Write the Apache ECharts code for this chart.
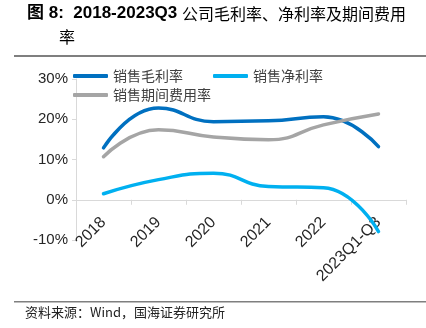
<!DOCTYPE html>
<html>
<head>
<meta charset="utf-8">
<script src="https://cdn.jsdelivr.net/npm/echarts@6/dist/echarts.min.js"></script>
<style>
  html, body { margin: 0; padding: 0; background: #fff; }
  #chart { width: 426px; height: 328px; }
</style>
</head>
<body>
<div id="chart"></div>
<script>
// Periods on the x axis
const categories = ['2018', '2019', '2020', '2021', '2022', '2023Q1-Q3'];
// Ratios in percent
const grossMargin = [12.9, 22.8, 19.4, 19.6, 20.6, 13.2];
const netMargin = [1.5, 5.0, 6.6, 3.3, 3.0, -7.9];
const expenseRate = [10.7, 17.4, 15.6, 14.9, 18.6, 21.3];
// Y axis ticks
const yTicks = { min: -10, max: 30, step: 10 };

const seriesNames = ['销售毛利率', '销售净利率', '销售期间费用率'];
const colors = ['#0070C0', '#00B0F0', '#A5A5A5'];

const gridTop = 79, gridBottom = 88, chartHeight = 328;
const plotHeight = chartHeight - gridTop - gridBottom;
// Lift the category axis from the grid bottom up to the zero line
const zeroLift = plotHeight * (0 - yTicks.min) / (yTicks.max - yTicks.min);

const chart = echarts.init(document.getElementById('chart'), null, { renderer: 'canvas' });

const legendText = { fontFamily: 'Noto Sans CJK SC', fontSize: 14, color: '#404040' };

chart.setOption({
  animation: false,
  color: colors,
  graphic: [
    {
      type: 'text', left: 27, top: 5,
      style: {
        text: '{b|图 8:  2018-2023Q3 }{n|公司毛利率、净利率及期间费用}',
        rich: {
          b: { fontFamily: 'Liberation Sans, Noto Sans CJK SC', fontWeight: 'bold', fontSize: 17, fill: '#000' },
          n: { fontFamily: 'Noto Sans CJK SC', fontSize: 16, fill: '#000' }
        }
      }
    },
    {
      type: 'text', left: 59, top: 29,
      style: { text: '率', fontFamily: 'Noto Sans CJK SC', fontSize: 16, fill: '#000' }
    },
    {
      type: 'rect', shape: { x: 14, y: 55, width: 412, height: 2 },
      style: { fill: '#7f7f7f' }
    },
    {
      type: 'rect', shape: { x: 14, y: 301, width: 412, height: 1.5 },
      style: { fill: '#7f7f7f' }
    },
    {
      type: 'text', left: 25, top: 306,
      style: { text: '资料来源：Wind，国海证券研究所', fontFamily: 'Noto Sans CJK SC', fontSize: 13, fill: '#222' }
    }
  ],
  legend: [
    {
      data: [seriesNames[0], seriesNames[1]],
      left: 68, top: 64, orient: 'horizontal',
      icon: 'roundRect', itemWidth: 35, itemHeight: 4, itemGap: 30,
      textStyle: legendText
    },
    {
      data: [seriesNames[2]],
      left: 68, top: 83,
      icon: 'roundRect', itemWidth: 35, itemHeight: 4,
      textStyle: legendText
    }
  ],
  grid: { left: 76, right: 20, top: gridTop, bottom: gridBottom, containLabel: false },
  xAxis: {
    type: 'category',
    data: categories,
    boundaryGap: true,
    offset: -zeroLift,
    axisLine: { onZero: false, lineStyle: { color: '#d9d9d9', width: 1 } },
    axisTick: { show: true, length: 5, lineStyle: { color: '#d9d9d9' } },
    axisLabel: {
      rotate: 45, fontSize: 16, color: '#262626', margin: 20,
      fontFamily: 'Liberation Sans, Arial'
    },
    splitLine: { show: false }
  },
  yAxis: {
    type: 'value',
    min: yTicks.min, max: yTicks.max, interval: yTicks.step,
    axisLine: { show: true, lineStyle: { color: '#d9d9d9', width: 1 } },
    axisTick: { show: true, length: 4, lineStyle: { color: '#d9d9d9' } },
    axisLabel: {
      formatter: '{value}%', fontSize: 15, color: '#262626', margin: 8,
      fontFamily: 'Liberation Sans, Arial'
    },
    splitLine: { show: false }
  },
  series: [
    { name: seriesNames[0], data: grossMargin },
    { name: seriesNames[1], data: netMargin },
    { name: seriesNames[2], data: expenseRate }
  ].map(s => Object.assign({
    type: 'line', smooth: 0.5, showSymbol: false, symbol: 'none',
    lineStyle: { width: 3.5, cap: 'round' }
  }, s))
});
</script>
</body>
</html>
